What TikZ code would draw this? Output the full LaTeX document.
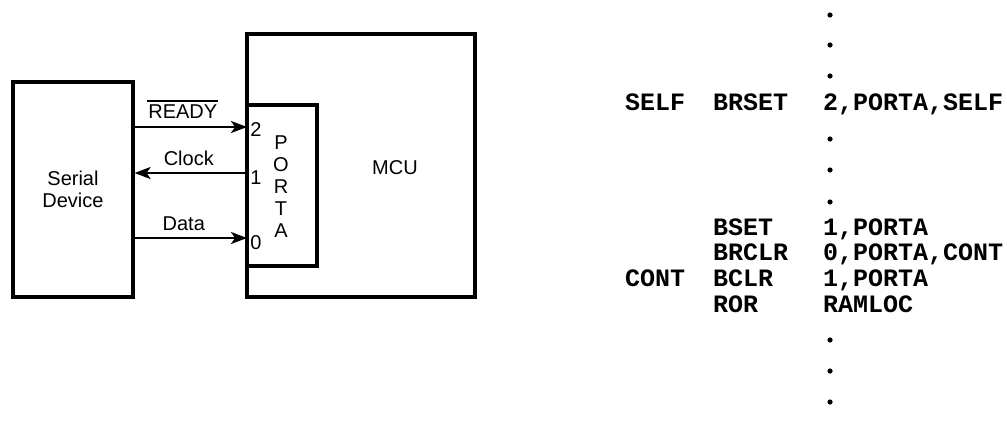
\documentclass[tikz,border=0pt]{standalone}
\usepackage{fontspec}
\setmainfont{Liberation Sans}
\newfontfamily\codefont{Liberation Mono}
\usetikzlibrary{arrows.meta}

\begin{document}
\begin{tikzpicture}[x=1pt, y=-1pt,
  box/.style={draw, line width=3.2pt, inner sep=0pt},
  sig/.style={line width=2.2pt, -{Stealth[length=16pt, width=12pt, inset=4pt]}},
  lbl/.style={font=\fontsize{20}{22}\selectfont, inner sep=0pt},
  code/.style={font=\codefont\bfseries\fontsize{25}{28}\selectfont, anchor=base west, inner sep=0pt}]
  \useasboundingbox (0,0) rectangle (1007,424);

  % Blocks
  \node[box, minimum width=120pt, minimum height=215pt, align=center, lbl] (serial) at (73,189.5) {Serial\\Device};
  \node[box, minimum width=228pt, minimum height=263pt] (mcu) at (361,165.5) {};
  \node[lbl] (mcutext) at (395,168) {MCU};
  \node[box, minimum width=70pt, minimum height=161pt] (porta) at (282,185.5) {};
  \node[lbl, align=center] (portatext) at (281,187) {P\\O\\R\\T\\A};

  % Port pins
  \coordinate (pin2) at (247,127);
  \coordinate (pin1) at (247,173);
  \coordinate (pin0) at (247,238);
  \node[lbl] (n2) at (256,130) {2};
  \node[lbl] (n1) at (256,178) {1};
  \node[lbl] (n0) at (256,243) {0};

  % Signals
  \draw[sig] (serial.east |- pin2) -- node[midway, above=7pt, lbl, xshift=-8pt] (ready) {READY} (pin2);
  \draw[line width=1.3pt] ([yshift=3pt]ready.north west) -- ([yshift=3pt]ready.north east);
  \draw[sig] (pin1) -- node[midway, above=6pt, lbl, xshift=-2pt] (clock) {Clock} (serial.east |- pin1);
  \draw[sig] (serial.east |- pin0) -- node[midway, above=6pt, lbl, xshift=-7pt] (data) {Data} (pin0);

  % Program listing
  \node[code] (l1a) at (625,110) {SELF};
  \node[code] (l1b) at (713,110) {BRSET};
  \node[code] (l1c) at (823,110) {2,PORTA,SELF};
  \node[code] (l2b) at (713,235) {BSET};
  \node[code] (l2c) at (823,235) {1,PORTA};
  \node[code] (l3b) at (713,260) {BRCLR};
  \node[code] (l3c) at (823,260) {0,PORTA,CONT};
  \node[code] (l4a) at (625,286) {CONT};
  \node[code] (l4b) at (713,286) {BCLR};
  \node[code] (l4c) at (823,286) {1,PORTA};
  \node[code] (l5b) at (713,312) {ROR};
  \node[code] (l5c) at (823,312) {RAMLOC};
  % continuation dots
  \foreach \y in {15,45,76,139,170,202,340,371,402}
    \fill (830,\y) circle (2.6pt);
\end{tikzpicture}
\end{document}
